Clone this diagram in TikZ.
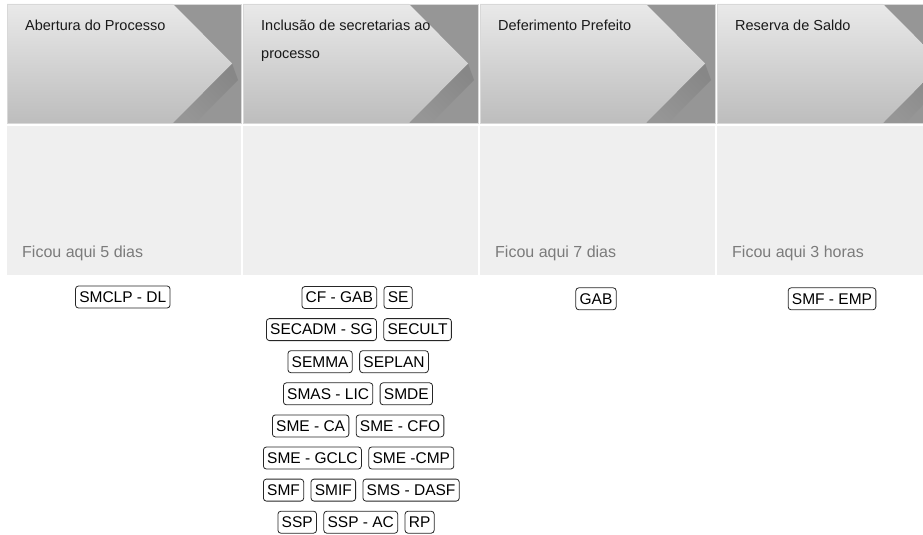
\documentclass[tikz,border=0pt]{standalone}
\usepackage{fontspec}
\setmainfont{Liberation Sans}
\usetikzlibrary{positioning}

\definecolor{panel}{HTML}{EFEFEF}
\definecolor{darkband}{HTML}{969696}
\definecolor{shadowband}{HTML}{878787}
\definecolor{chevtop}{HTML}{E9E9E9}
\definecolor{chevbot}{HTML}{BDBDBD}
\definecolor{rim}{HTML}{D8D8D8}
\definecolor{staytext}{HTML}{7B7B7B}

\begin{document}
\begin{tikzpicture}[x=1pt, y=-1pt, node distance=6.5pt,
  title/.style={anchor=north west, inner sep=0pt, align=left, font=\fontsize{14.5}{28}\selectfont, text=black!90},
  stay/.style={anchor=base west, inner sep=0pt, font=\fontsize{16}{19}\selectfont, text=staytext},
  tag/.style={draw=black!85, line width=0.8pt, rounded corners=3pt, inner xsep=3.8pt, inner ysep=0pt, minimum height=22pt, font=\fontsize{15.5}{18}\selectfont}]

\useasboundingbox (0,0) rectangle (923,535);
\clip (0,0) rectangle (923,535);

\fill[darkband] (7,4) rectangle (241,123);
\shade[left color=shadowband, right color=darkband, shading angle=-45] (232,63.5) -- (173,123) -- (195,123) -- (238,80) -- cycle;
\shade[top color=chevtop, bottom color=chevbot] (7,4) -- (173,4) -- (232,63.5) -- (173,123) -- (7,123) -- cycle;
\draw[rim] (7,4) rectangle (241,123);
\fill[panel] (7,126) rectangle (241,275);
\node[title] (abertura) at (25,20) {Abertura do Processo};
\node[stay] (stay1) at (22,257.5) {Ficou aqui 5 dias};% col 1

\fill[darkband] (243,4) rectangle (478,123);
\shade[left color=shadowband, right color=darkband, shading angle=-45] (468,63.5) -- (409,123) -- (431,123) -- (474,80) -- cycle;
\shade[top color=chevtop, bottom color=chevbot] (243,4) -- (409,4) -- (468,63.5) -- (409,123) -- (243,123) -- cycle;
\draw[rim] (243,4) rectangle (478,123);
\fill[panel] (243,126) rectangle (478,275);
\node[title] (inclusao) at (261,20) {Inclusão de secretarias ao\\processo};% col 2

\fill[darkband] (480,4) rectangle (715,123);
\shade[left color=shadowband, right color=darkband, shading angle=-45] (705,63.5) -- (646,123) -- (668,123) -- (711,80) -- cycle;
\shade[top color=chevtop, bottom color=chevbot] (480,4) -- (646,4) -- (705,63.5) -- (646,123) -- (480,123) -- cycle;
\draw[rim] (480,4) rectangle (715,123);
\fill[panel] (480,126) rectangle (715,275);
\node[title] (deferimento) at (498,20) {Deferimento Prefeito};
\node[stay] (stay3) at (495,257.5) {Ficou aqui 7 dias};% col 3

\fill[darkband] (717,4) rectangle (952,123);
\shade[left color=shadowband, right color=darkband, shading angle=-45] (942,63.5) -- (883,123) -- (905,123) -- (948,80) -- cycle;
\shade[top color=chevtop, bottom color=chevbot] (717,4) -- (883,4) -- (942,63.5) -- (883,123) -- (717,123) -- cycle;
\draw[rim] (717,4) rectangle (952,123);
\fill[panel] (717,126) rectangle (952,275);
\node[title] (reserva) at (735,20) {Reserva de Saldo};
\node[stay] (stay4) at (732,257.5) {Ficou aqui 3 horas};% col 4

\node[tag] (smclp) at (122.8,297) {SMCLP - DL};
\node[tag] (gab) at (596,298.8) {GAB};
\node[tag] (smfemp) at (832,298.8) {SMF - EMP};

\node[tag, anchor=west] (cfgab) at (301.5,297.5) {CF - GAB};
\node[tag, right=of cfgab] (se) {SE};
\node[tag, anchor=west] (secadm) at (266,329.6) {SECADM - SG};
\node[tag, right=of secadm] (secult) {SECULT};
\node[tag, anchor=west] (semma) at (287.5,361.7) {SEMMA};
\node[tag, right=of semma] (seplan) {SEPLAN};
\node[tag, anchor=west] (smas) at (283,393.8) {SMAS - LIC};
\node[tag, right=of smas] (smde) {SMDE};
\node[tag, anchor=west] (smeca) at (272,425.9) {SME - CA};
\node[tag, right=of smeca] (smecfo) {SME - CFO};
\node[tag, anchor=west] (smegclc) at (263,458) {SME - GCLC};
\node[tag, right=of smegclc] (smecmp) {SME -CMP};
\node[tag, anchor=west] (smf) at (263,490.1) {SMF};
\node[tag, right=of smf] (smif) {SMIF};
\node[tag, right=of smif] (smsdasf) {SMS - DASF};
\node[tag, anchor=west] (ssp) at (277.5,522.2) {SSP};
\node[tag, right=of ssp] (sspac) {SSP - AC};
\node[tag, right=of sspac] (rp) {RP};
\end{tikzpicture}
\end{document}
